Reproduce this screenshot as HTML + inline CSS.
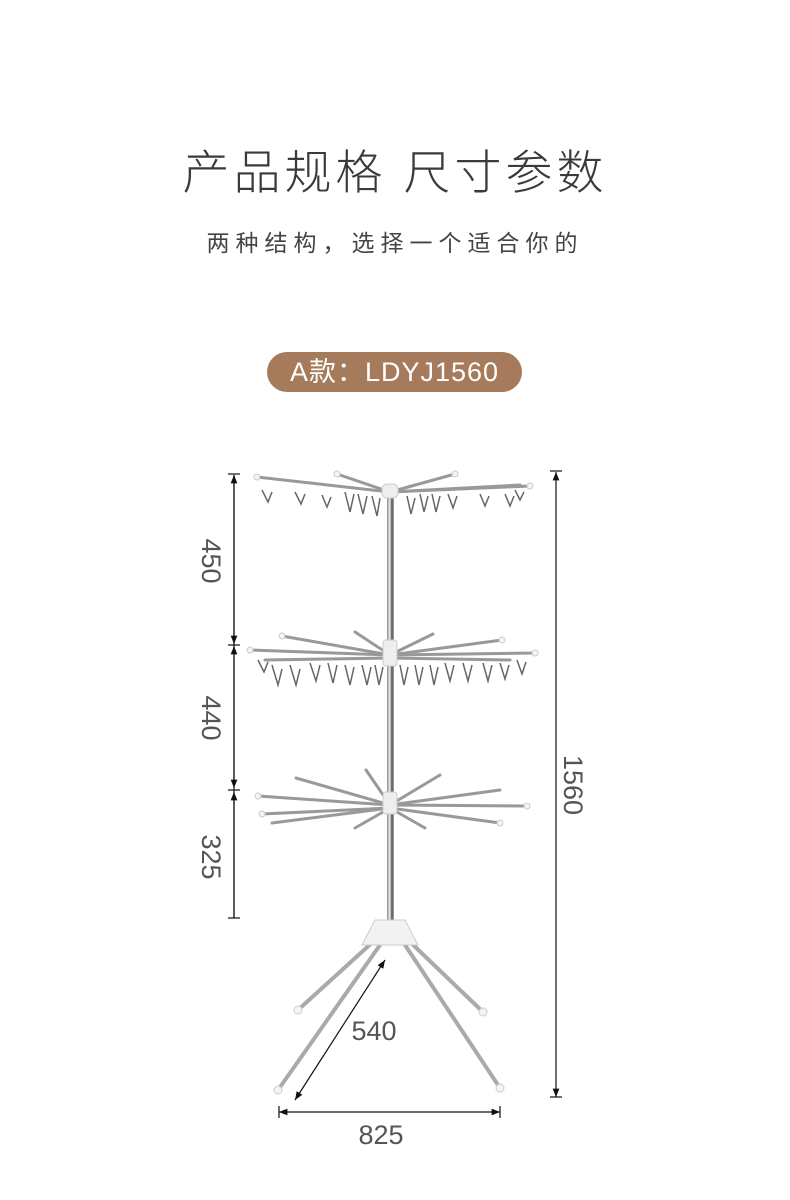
<!DOCTYPE html>
<html><head><meta charset="utf-8"><style>
html,body{margin:0;padding:0;background:#fff;}
body{width:790px;height:1200px;position:relative;overflow:hidden;font-family:"Liberation Sans","Noto Sans CJK SC",sans-serif;}
.t{position:absolute;left:0;width:790px;text-align:center;color:#333;}
</style></head><body>
<div class="t" style="top:134px;font-size:47px;letter-spacing:4px;color:#3a3a3a;font-weight:300;">产品规格 尺寸参数</div>
<div class="t" style="top:224px;font-size:23px;letter-spacing:6px;color:#444;">两种结构，选择一个适合你的</div>
<div style="position:absolute;left:267px;top:352px;width:255px;height:40px;border-radius:20px;background:#a57b5b;color:#fff;font-size:27px;line-height:40px;text-align:center;letter-spacing:1px;">A款：LDYJ1560</div>
<svg width="790" height="1200" style="position:absolute;left:0;top:0" xmlns="http://www.w3.org/2000/svg">
<defs>
<linearGradient id="p" x1="0" x2="1"><stop offset="0" stop-color="#888"/><stop offset=".4" stop-color="#eee"/><stop offset=".7" stop-color="#555"/><stop offset="1" stop-color="#aaa"/></linearGradient>
<marker id="a" viewBox="0 0 10 10" refX="10" refY="5" markerWidth="7" markerHeight="7" orient="auto-start-reverse"><path d="M0,1 L10,5 L0,9z" fill="#111"/></marker>
</defs>
<rect x="387" y="490" width="7" height="440" fill="url(#p)"/>
<g stroke="#999" stroke-width="3" stroke-linecap="round">
<line x1="390" y1="492" x2="257" y2="477"/><line x1="390" y1="492" x2="337" y2="474"/><line x1="390" y1="492" x2="455" y2="474"/><line x1="390" y1="492" x2="530" y2="486"/><line x1="390" y1="492" x2="520" y2="485"/>
<line x1="390" y1="655" x2="250" y2="650"/><line x1="390" y1="655" x2="282" y2="636"/><line x1="390" y1="655" x2="355" y2="632"/><line x1="390" y1="655" x2="433" y2="634"/><line x1="390" y1="655" x2="502" y2="640"/><line x1="390" y1="655" x2="535" y2="653"/><line x1="390" y1="658" x2="265" y2="660"/><line x1="390" y1="658" x2="510" y2="660"/>
<line x1="390" y1="805" x2="258" y2="796"/><line x1="390" y1="808" x2="262" y2="814"/><line x1="390" y1="805" x2="296" y2="778"/><line x1="390" y1="805" x2="366" y2="770"/><line x1="390" y1="805" x2="440" y2="775"/><line x1="390" y1="805" x2="500" y2="790"/><line x1="390" y1="805" x2="527" y2="806"/><line x1="390" y1="808" x2="500" y2="823"/><line x1="390" y1="808" x2="272" y2="823"/><line x1="390" y1="808" x2="355" y2="828"/><line x1="390" y1="808" x2="425" y2="828"/>
</g>
<g stroke="#aaa" stroke-width="4" stroke-linecap="round">
<line x1="380" y1="945" x2="278" y2="1090"/><line x1="375" y1="940" x2="298" y2="1010"/><line x1="405" y1="945" x2="500" y2="1088"/><line x1="408" y1="940" x2="483" y2="1012"/>
</g>
<path d="M375,920 L405,920 L418,945 L362,945Z" fill="#f2f2f2" stroke="#ccc"/>
<rect x="382" y="484" width="16" height="14" rx="5" fill="#eee" stroke="#ccc"/>
<rect x="383" y="640" width="14" height="26" rx="3" fill="#eee" stroke="#ccc"/>
<rect x="383" y="792" width="14" height="22" rx="3" fill="#eee" stroke="#ccc"/>
<g stroke="#666" stroke-width="1.5" fill="none">
<path d="M262,490 l6,12 l4,-10 M295,492 l6,12 l4,-10 M322,495 l5,12 l4,-10 M345,492 l5,20 l4,-18 M358,494 l5,20 l4,-18 M372,496 l5,20 l3,-18 M407,496 l4,18 l4,-16 M420,494 l4,18 l4,-16 M432,494 l4,18 l4,-16 M448,494 l5,14 l4,-12 M480,494 l5,12 l4,-10 M505,494 l5,12 l4,-10 M515,490 l5,10 l4,-8"/>
<path d="M258,660 l6,12 l4,-10 M272,665 l6,20 l4,-16 M290,665 l6,20 l4,-16 M310,663 l6,18 l4,-16 M328,663 l5,20 l4,-18 M345,665 l5,20 l4,-18 M362,665 l5,20 l4,-18 M375,665 l4,20 l4,-18 M400,665 l4,20 l4,-18 M415,665 l4,20 l4,-18 M430,665 l4,20 l4,-18 M445,663 l5,18 l4,-16 M463,663 l5,18 l4,-16 M483,663 l5,18 l4,-16 M500,663 l5,16 l4,-14 M517,660 l5,14 l4,-12"/>
</g>
<g fill="#f4f4f4" stroke="#ccc">
<circle cx="257" cy="477" r="3"/><circle cx="337" cy="474" r="3"/><circle cx="455" cy="474" r="3"/><circle cx="530" cy="486" r="3"/>
<circle cx="250" cy="650" r="3"/><circle cx="282" cy="636" r="3"/><circle cx="535" cy="653" r="3"/><circle cx="502" cy="640" r="3"/>
<circle cx="258" cy="796" r="3"/><circle cx="262" cy="814" r="3"/><circle cx="527" cy="806" r="3"/><circle cx="500" cy="823" r="3"/>
<circle cx="278" cy="1090" r="4"/><circle cx="298" cy="1010" r="4"/><circle cx="500" cy="1088" r="4"/><circle cx="483" cy="1012" r="4"/>
</g>
<g stroke="#111" stroke-width="1.2">
<line x1="234" y1="475" x2="234" y2="918" marker-start="url(#a)"/>
<line x1="234" y1="475" x2="234" y2="644" marker-end="url(#a)"/>
<line x1="234" y1="646" x2="234" y2="788" marker-start="url(#a)" marker-end="url(#a)"/>
<line x1="234" y1="792" x2="234" y2="918" marker-start="url(#a)"/>
<line x1="228" y1="474" x2="240" y2="474"/><line x1="228" y1="645" x2="240" y2="645"/><line x1="228" y1="790" x2="240" y2="790"/><line x1="228" y1="918" x2="240" y2="918"/>
<line x1="556" y1="472" x2="556" y2="1097" marker-start="url(#a)" marker-end="url(#a)"/>
<line x1="550" y1="471" x2="562" y2="471"/><line x1="550" y1="1097" x2="562" y2="1097"/>
<line x1="279" y1="1112" x2="500" y2="1112" marker-start="url(#a)" marker-end="url(#a)"/>
<line x1="279" y1="1106" x2="279" y2="1118"/><line x1="500" y1="1106" x2="500" y2="1118"/>
<line x1="385" y1="960" x2="295" y2="1100" marker-start="url(#a)" marker-end="url(#a)"/>
</g>
<g font-family="Liberation Sans, sans-serif" font-size="27" fill="#555" text-anchor="middle">
<text transform="translate(202,561) rotate(90)">450</text>
<text transform="translate(202,718) rotate(90)">440</text>
<text transform="translate(202,857) rotate(90)">325</text>
<text transform="translate(564,785) rotate(90)">1560</text>
<text x="374" y="1040">540</text>
<text x="381" y="1144">825</text>
</g>
</svg>
</body></html>
